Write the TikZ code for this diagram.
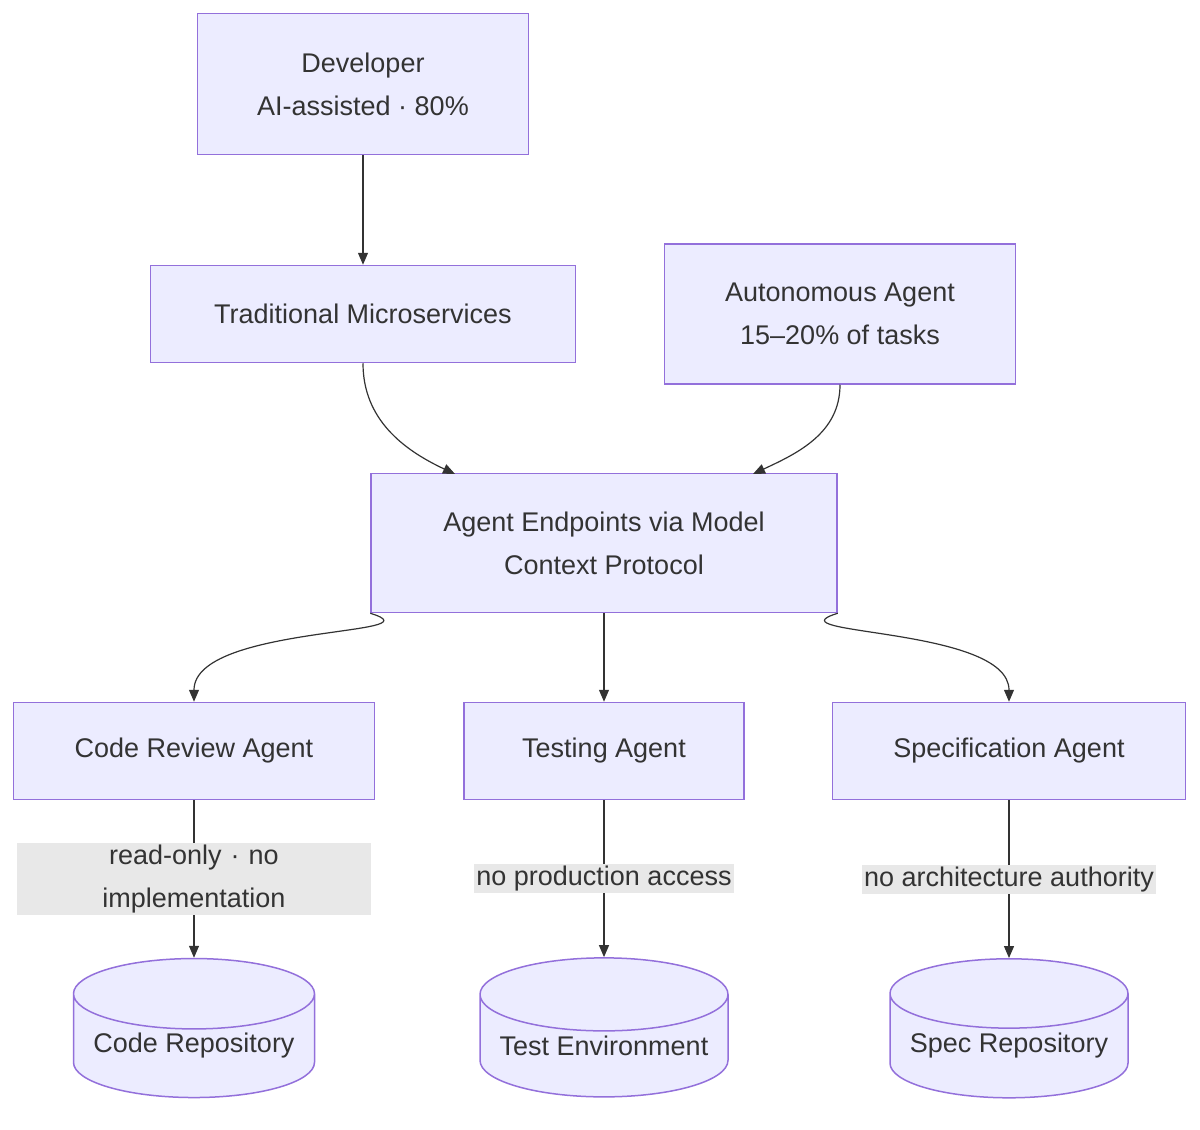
\documentclass[tikz,border=0pt]{standalone}
\usepackage{fontspec}
\setmainfont{Liberation Sans}
\usetikzlibrary{shapes.geometric,arrows.meta}
\definecolor{boxfill}{HTML}{ECECFF}
\definecolor{boxline}{HTML}{9370DB}
\definecolor{lblfill}{HTML}{E8E8E8}
\definecolor{ink}{HTML}{333333}
\begin{document}
\begin{tikzpicture}[x=1pt,y=-1pt,
  font=\fontsize{27}{43}\selectfont, text=ink,
  agent/.style={shape=rectangle,draw=boxline,fill=boxfill,line width=1.5pt,align=center,inner sep=0pt},
  store/.style={shape=cylinder,shape border rotate=90,aspect=0.35,draw=boxline,fill=boxfill,line width=1.5pt,inner sep=0pt,align=center},
  flows/.style={draw=ink,line width=1.2pt,-{Triangle[length=12pt,width=10pt]}},
  rule/.style={fill=lblfill,align=center,inner sep=2pt}]
\useasboundingbox (0,0) rectangle (1200,1130);
\node[agent,minimum width=331,minimum height=141] (D) at (363,84) {Developer\\AI-assisted · 80\%};
\node[agent,minimum width=425,minimum height=97] (T) at (363,314) {Traditional Microservices};
\node[agent,minimum width=351,minimum height=140] (AA) at (840,314) {Autonomous Agent\\15--20\% of tasks};
\node[agent,minimum width=466,minimum height=139] (E) at (604,543) {Agent Endpoints via Model\\Context Protocol};
\node[agent,minimum width=361,minimum height=97] (CR) at (194,751) {Code Review Agent};
\node[agent,minimum width=280,minimum height=97] (TA) at (604,751) {Testing Agent};
\node[agent,minimum width=353,minimum height=97] (SA) at (1009,751) {Specification Agent};
\node[store,minimum width=241,minimum height=139] (CRep) at (194,1046) {\raisebox{-12pt}{Code Repository}};
\node[store,minimum width=248,minimum height=139] (TE) at (604,1046) {\raisebox{-12pt}{Test Environment}};
\node[store,minimum width=238,minimum height=139] (SRep) at (1009,1046) {\raisebox{-12pt}{Spec Repository}};
\coordinate (inL) at (455,474);
\coordinate (inR) at (753,474);
\draw[flows] (D) -- (T);
\draw[flows] (T.south) to[out=-90,in=155] (inL);
\draw[flows] (AA.south) to[out=-90,in=25] (inR);
\draw[flows] (E.south west) to[out=-17,in=90] (CR.north);
\draw[flows] (E) -- (TA);
\draw[flows] (E.south east) to[out=-17+214,in=90] (SA.north);
\draw[flows] (CR) -- node[rule,text width=350] {read-only · no\\implementation} (CRep.north);
\draw[flows] (TA) -- node[rule] {no production access} (TE.north);
\draw[flows] (SA) -- node[rule] {no architecture authority} (SRep.north);
\end{tikzpicture}
\end{document}
